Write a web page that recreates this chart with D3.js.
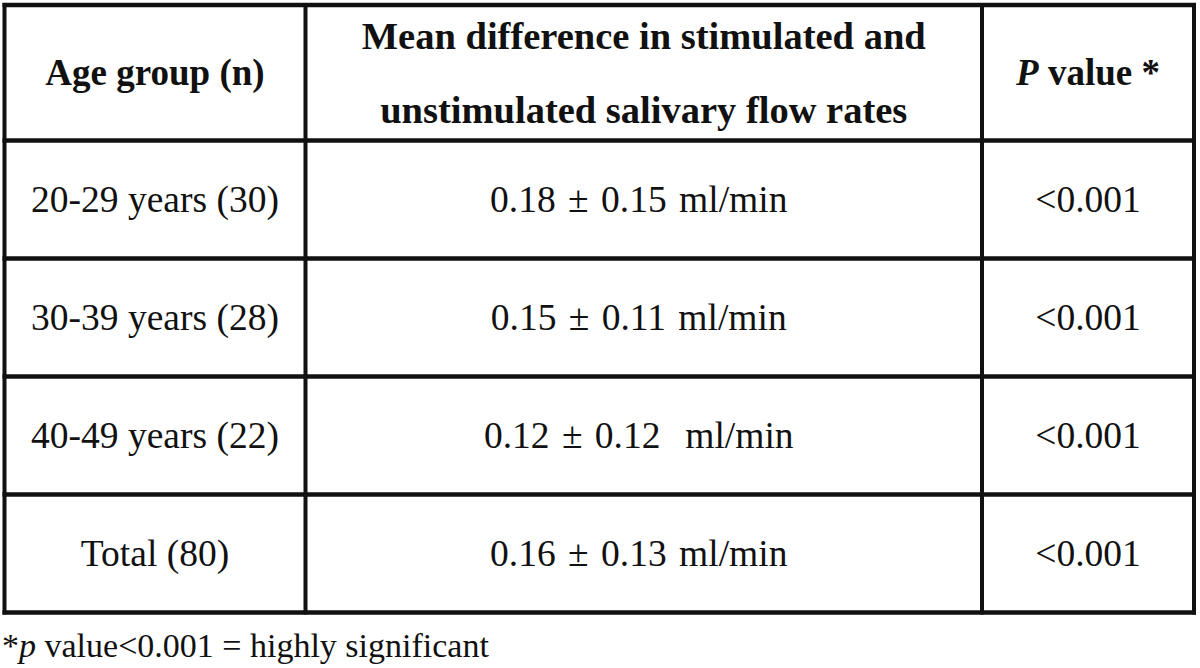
<!DOCTYPE html>
<meta charset="utf-8">
<style>
  body { margin: 0; background: #fff; }
  text { font-family: "Liberation Serif", "Times New Roman", serif; fill: #111; }
</style>
<script src="https://d3js.org/d3.v7.min.js"></script>
<div id="my_dataviz"></div>
<script>
// table content
var ageGroups = ["20-29 years (30)", "30-39 years (28)", "40-49 years (22)", "Total (80)"];
var meanDiff = [0.18, 0.15, 0.12, 0.16];
var sdDiff = [0.15, 0.11, 0.12, 0.13];
var unitGap = [" ", " ", "  ", " "];   // row 3 has a double space in the source
var pValues = ["<0.001", "<0.001", "<0.001", "<0.001"];
var header1 = ["Mean difference in stimulated and", "unstimulated salivary flow rates"];

var width = 1200, height = 668;

// column edges and row bands
var colEdges = [4.5, 305.5, 982, 1194];
var tableTop = 5, headerBottom = 140.5, tableBottom = 612.5;

var y = d3.scaleBand()
  .domain(d3.range(ageGroups.length))
  .range([headerBottom, tableBottom])
  .padding(0);

var svg = d3.select("#my_dataviz")
  .append("svg")
    .attr("width", width)
    .attr("height", height);

var colMid = function(i) { return (colEdges[i] + colEdges[i + 1]) / 2; };

// grid lines
var hLines = [tableTop, headerBottom].concat(ageGroups.map(function(d, i) { return y(i) + y.bandwidth(); }));
svg.selectAll("line.h")
  .data(hLines)
  .enter().append("line")
    .attr("class", "h")
    .attr("x1", colEdges[0] - 2).attr("x2", colEdges[3] + 2)
    .attr("y1", function(d) { return d; }).attr("y2", function(d) { return d; })
    .attr("stroke", "#111").attr("stroke-width", 4.5);

svg.selectAll("line.v")
  .data(colEdges)
  .enter().append("line")
    .attr("class", "v")
    .attr("x1", function(d) { return d; }).attr("x2", function(d) { return d; })
    .attr("y1", tableTop - 2).attr("y2", tableBottom + 2)
    .attr("stroke", "#111").attr("stroke-width", 4);

// header
var hMid = (tableTop + headerBottom) / 2;
var head = svg.append("g").attr("font-weight", "bold").attr("font-size", 37).attr("text-anchor", "middle");

head.append("text")
  .attr("x", colMid(0)).attr("y", hMid + 12.5)
  .text("Age group (n)");

head.selectAll("text.mid")
  .data(header1)
  .enter().append("text")
    .attr("class", "mid")
    .attr("x", colMid(1))
    .attr("y", function(d, i) { return hMid - 23.5 + i * 74; })
    .attr("font-size", 38.5)
    .text(function(d) { return d; });

var pHead = head.append("text")
  .attr("x", colMid(2)).attr("y", hMid + 12.5);
pHead.append("tspan").attr("font-style", "italic").text("P");
pHead.append("tspan").text(" value *");

// body rows
var rows = svg.selectAll("g.row")
  .data(ageGroups)
  .enter().append("g")
    .attr("class", "row")
    .attr("font-size", 37.5)
    .attr("text-anchor", "middle")
    .attr("transform", function(d, i) { return "translate(0," + (y(i) + y.bandwidth() / 2 + 12) + ")"; });

rows.append("text")
  .attr("x", colMid(0))
  .text(function(d) { return d; });

rows.append("text")
  .attr("x", colMid(1) - 5)
  .style("white-space", "pre")
  .style("word-spacing", "3px")
  .text(function(d, i) { return meanDiff[i].toFixed(2) + " \u00b1 " + sdDiff[i].toFixed(2) + unitGap[i] + "ml/min"; });

rows.append("text")
  .attr("x", colMid(2))
  .text(function(d, i) { return pValues[i]; });

// footnote
var foot = svg.append("text")
  .attr("x", 2).attr("y", 657)
  .attr("font-size", 34);
foot.append("tspan").text("*");
foot.append("tspan").attr("font-style", "italic").text("p");
foot.append("tspan").text(" value<0.001 = highly significant");
</script>
